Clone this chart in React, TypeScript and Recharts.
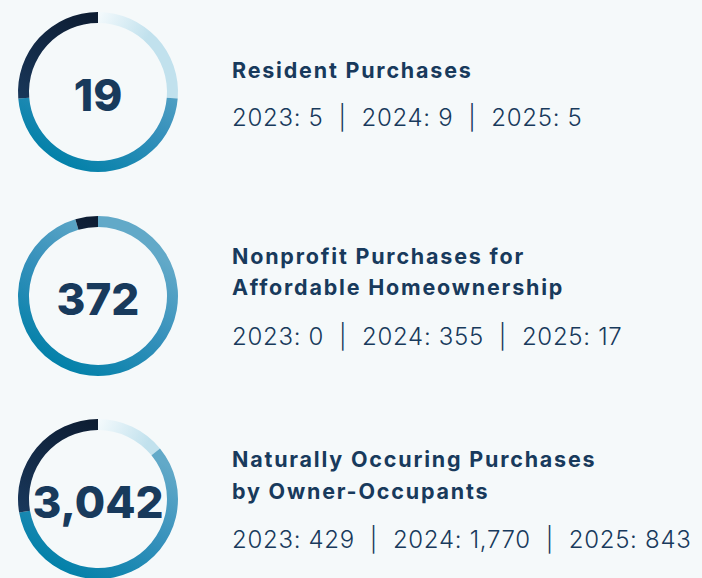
import React from "react";
import { PieChart, Pie, Cell, Label } from "recharts";

const years = ["2023", "2024", "2025"];

const titleLines = [
  ["Resident Purchases"],
  ["Nonprofit Purchases for", "Affordable Homeownership"],
  ["Naturally Occuring Purchases", "by Owner-Occupants"],
];

const residentValues = [5, 9, 5];
const nonprofitValues = [0, 355, 17];
const naturalValues = [429, 1770, 843];

const seriesValues = [residentValues, nonprofitValues, naturalValues];

// layout of each block (ring top, title baselines, subtitle baseline)
const ringTops = [2, 206, 409];
const titleBaselines = [[78], [264, 295], [467, 499]];
const subtitleBaselines = [126, 345, 548];

const navy = "#183a5c";
const fmt = (n: number) => n.toLocaleString("en-US");

const Ring = ({ values, id }: { values: number[]; id: string }) => {
  const data = years.map((year, i) => ({ year, value: values[i] }));
  const total = values.reduce((a, b) => a + b, 0);
  return (
    <PieChart width={180} height={180} margin={{ top: 0, right: 0, bottom: 0, left: 0 }}>
      <defs>
        <linearGradient id={`${id}-0`} gradientUnits="userSpaceOnUse" x1={88} y1={12} x2={138} y2={38}>
          <stop offset="0%" stopColor="#f6fbfd" />
          <stop offset="100%" stopColor="#c1e1ed" />
        </linearGradient>
        <linearGradient id={`${id}-1`} gradientUnits="userSpaceOnUse" x1={150} y1={20} x2={60} y2={170}>
          <stop offset="15%" stopColor="#62a9c8" />
          <stop offset="55%" stopColor="#3590bb" />
          <stop offset="100%" stopColor="#0080a8" />
        </linearGradient>
        <linearGradient id={`${id}-2`} gradientUnits="userSpaceOnUse" x1={20} y1={130} x2={90} y2={10}>
          <stop offset="0%" stopColor="#1b3c62" />
          <stop offset="100%" stopColor="#0d1c31" />
        </linearGradient>
      </defs>
      <Pie
        data={data}
        dataKey="value"
        nameKey="year"
        cx={90}
        cy={90}
        innerRadius={69}
        outerRadius={80}
        startAngle={90}
        endAngle={-270}
        stroke="none"
        isAnimationActive={false}
      >
        {data.map((d, i) => (
          <Cell key={d.year} fill={`url(#${id}-${i})`} />
        ))}
        <Label
          value={fmt(total)}
          position="center"
          fill={navy}
          dy={3}
          style={{ fontSize: 44, fontWeight: 800, fontFamily: "Inter" }}
        />
      </Pie>
    </PieChart>
  );
};

export default function App() {
  return (
    <div
      style={{
        position: "fixed",
        left: 0,
        top: 0,
        width: 702,
        height: 578,
        overflow: "hidden",
        background: "#f5f9fa",
      }}
    >
      {seriesValues.map((values, i) => (
        <div key={i} style={{ position: "absolute", left: 8, top: ringTops[i] }}>
          <Ring values={values} id={`ring${i}`} />
        </div>
      ))}
      <svg width={702} height={578} style={{ position: "absolute", left: 0, top: 0 }}>
        {seriesValues.map((values, i) => (
          <g key={i} fill={navy} fontFamily="Inter">
            {titleLines[i].map((line, j) => (
              <text key={j} x={232} y={titleBaselines[i][j]} fontSize={21.5} fontWeight={700} letterSpacing={1.8}>
                {line}
              </text>
            ))}
            <text
              x={232}
              y={subtitleBaselines[i]}
              fontSize={24}
              fontWeight={300}
              letterSpacing={0.7}
              style={{ whiteSpace: "pre" }}
            >
              {years.map((y, k) => `${y}: ${fmt(values[k])}`).join("  |  ")}
            </text>
          </g>
        ))}
      </svg>
    </div>
  );
}
